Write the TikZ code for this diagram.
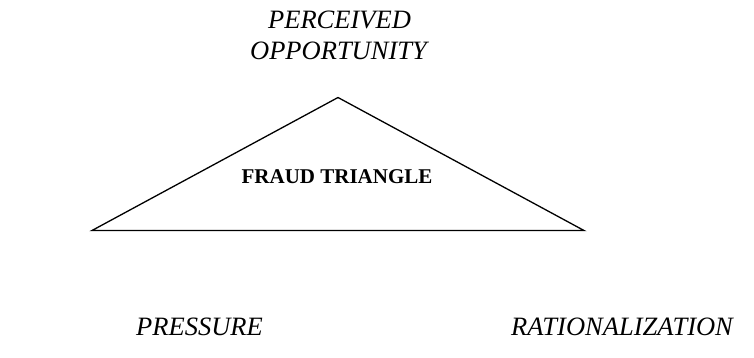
\documentclass[tikz,border=0pt]{standalone}
\usepackage{fontspec}
\setmainfont{Liberation Serif}
\begin{document}
\begin{tikzpicture}[x=1pt,y=-1pt,
  corner/.style={font=\fontsize{26.5}{31}\selectfont\itshape, inner sep=0pt, anchor=base, align=center},
  title/.style={font=\fontsize{21}{25}\selectfont\bfseries, inner sep=0pt, anchor=base},
  edge/.style={line width=1.3pt, line join=miter}]
\useasboundingbox (0,0) rectangle (754,358);
\coordinate (apex) at (338,97.5);
\coordinate (bl) at (92,230.5);
\coordinate (br) at (584,230.5);
\draw[edge] (apex) -- (br) -- (bl) -- cycle;
\node[title] (ft) at (337,183) {FRAUD TRIANGLE};
\node[corner] (po1) at (339.5,29) {PERCEIVED};
\node[corner] (po2) at (338.5,60) {OPPORTUNITY};
\node[corner] (pr) at (199.5,335) {PRESSURE};
\node[corner] (ra) at (622,335) {RATIONALIZATION};
\end{tikzpicture}
\end{document}
